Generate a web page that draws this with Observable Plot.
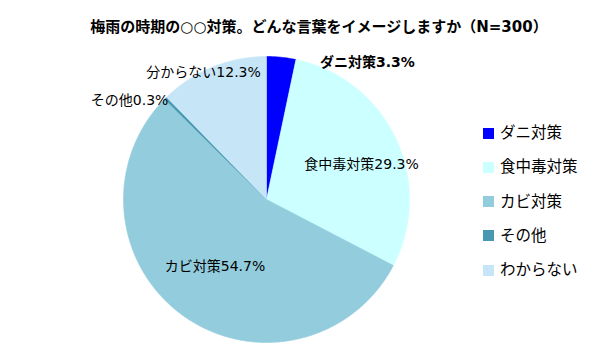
<!DOCTYPE html>
<html><head><meta charset="utf-8">
<script src="https://cdn.jsdelivr.net/npm/d3@7"></script>
<script src="https://cdn.jsdelivr.net/npm/@observablehq/plot@0.6"></script>
<style>
body{margin:0;background:#fff;font-family:"DejaVu Sans","Noto Sans CJK JP",sans-serif;}
#wrap{position:relative;width:600px;height:360px;overflow:hidden;background:#fff}
#title{position:absolute;left:0;top:17px;width:600px;padding-left:38px;box-sizing:border-box;text-align:center;font-size:15px;font-weight:bold;line-height:20px;color:#000;white-space:nowrap}
#chart{position:absolute;left:0;top:40px}
#legend{position:absolute;left:0;top:0}
.row{position:absolute;left:483px;height:20px;display:flex;align-items:center;font-size:15.5px;color:#000;white-space:nowrap}
.sw{width:11px;height:11px;margin-right:6px;margin-top:4px;flex:none}
</style></head>
<body>
<div id="wrap">
  <div id="title"></div>
  <div id="chart"></div>
  <div id="legend"></div>
</div>
<script>
const titleText = "梅雨の時期の○○対策。どんな言葉をイメージしますか（N=300）";
const categories = ["ダニ対策", "食中毒対策", "カビ対策", "その他", "わからない"];
const labelNames = ["ダニ対策", "食中毒対策", "カビ対策", "その他", "分からない"];
const percents = [3.3, 29.3, 54.7, 0.3, 12.3];
const colors = ["#0000FF", "#CCFFFF", "#93CDDD", "#4798B0", "#C6E6F8"];

// label placement (layout only): radius fraction + pixel offsets
const labelLayout = [
  {r: 1.0, dx: 86, dy: 5, bold: true},
  {r: 0.6, dx: 17.5, dy: 2, bold: false},
  {r: 0.6, dx: -1, dy: -2, bold: false},
  {r: 1.0, dx: -36, dy: 2, bold: false},
  {r: 1.0, dx: -9, dy: 5, bold: false}
];

document.getElementById("title").textContent = titleText;

const R = 143;
const arcs = d3.pie().sort(null).value(d => d)(percents);
const slicePts = [];
arcs.forEach((a, i) => {
  slicePts.push({name: categories[i], x: 0, y: 0});
  const n = Math.max(2, Math.ceil((a.endAngle - a.startAngle) / (Math.PI / 360)));
  for (let k = 0; k <= n; k++) {
    const t = a.startAngle + (a.endAngle - a.startAngle) * k / n;
    slicePts.push({name: categories[i], x: Math.sin(t), y: Math.cos(t)});
  }
  slicePts.push({name: categories[i], x: 0, y: 0});
});

const labels = arcs.map((a, i) => {
  const m = (a.startAngle + a.endAngle) / 2;
  const L = labelLayout[i];
  return {
    text: labelNames[i] + percents[i].toFixed(1) + "%",
    x: L.r * Math.sin(m) + L.dx / R,
    y: L.r * Math.cos(m) - L.dy / R,
    bold: L.bold
  };
});

const plot = Plot.plot({
  width: 600,
  height: 320,
  marginLeft: 123,
  marginRight: 191,
  marginTop: 16,
  marginBottom: 18,
  style: {fontFamily: '"DejaVu Sans","Noto Sans CJK JP",sans-serif', fontSize: "14px", background: "#fff"},
  x: {domain: [-1, 1], axis: null},
  y: {domain: [-1, 1], axis: null},
  color: {domain: categories, range: colors},
  marks: [
    Plot.line(slicePts, {x: "x", y: "y", z: "name", fill: "name", stroke: "name", strokeWidth: 0.6, curve: "linear"}),
    Plot.text(labels.filter(d => !d.bold), {x: "x", y: "y", text: "text", fontSize: 14, fill: "#000"}),
    Plot.text(labels.filter(d => d.bold), {x: "x", y: "y", text: "text", fontSize: 14, fontWeight: "bold", fill: "#000"})
  ]
});
document.getElementById("chart").appendChild(plot);

const legend = document.getElementById("legend");
categories.forEach((c, i) => {
  const row = document.createElement("div");
  row.className = "row";
  row.style.top = (121 + i * 34.3) + "px";
  const sw = document.createElement("div");
  sw.className = "sw";
  sw.style.background = colors[i];
  const tx = document.createElement("span");
  tx.textContent = c;
  row.appendChild(sw);
  row.appendChild(tx);
  legend.appendChild(row);
});
</script>
</body></html>
